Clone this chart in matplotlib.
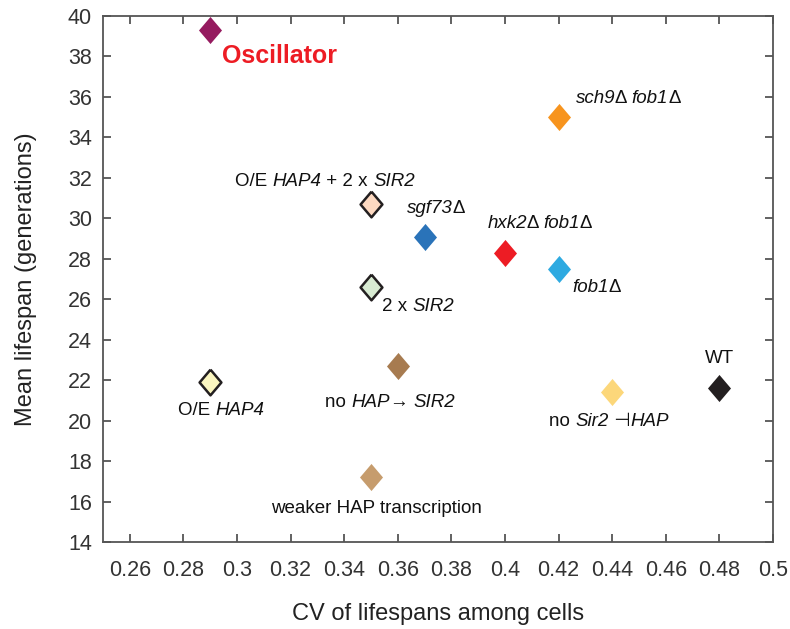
import matplotlib
matplotlib.use("Agg")
import matplotlib.pyplot as plt
from matplotlib.offsetbox import TextArea, HPacker, AnnotationBbox

plt.rcParams['font.family'] = ['Liberation Sans', 'DejaVu Sans']

# strains: CV of lifespan vs mean lifespan
cv = [0.29, 0.42, 0.37, 0.40, 0.42, 0.35, 0.35, 0.29, 0.36, 0.35, 0.44, 0.48]
lifespan = [39.3, 35.0, 29.1, 28.3, 27.5, 30.7, 26.6, 21.9, 22.7, 17.2, 21.4, 21.6]
colors = ['#951b5f', '#f7941e', '#2a73b9', '#ed1c24', '#2eaae1',
          '#fdd9c1', '#d8ebd2', '#fbf6c0', '#a77b50', '#c69c6d', '#fcd77a', '#231f20']
outlined = [False, False, False, False, False, True, True, True, False, False, False, False]

# labels as (text, italic) pieces
labels = [
    [('sch9', True), ('\u0394 ', False), ('fob1', True), ('\u0394', False)],
    [('sgf73', True), ('\u0394', False)],
    [('hxk2', True), ('\u0394 ', False), ('fob1', True), ('\u0394', False)],
    [('fob1', True), ('\u0394', False)],
    [('O/E ', False), ('HAP4', True), (' + 2 x ', False), ('SIR2', True)],
    [('2 x ', False), ('SIR2', True)],
    [('O/E ', False), ('HAP4', True)],
    [('no ', False), ('HAP', True), ('\u2192 ', False), ('SIR2', True)],
    [('weaker HAP transcription', False)],
    [('no ', False), ('Sir2', True), (' \u22a3', False), ('HAP', True)],
    [('WT', False)],
]
label_x = [0.4459, 0.3743, 0.413, 0.4343, 0.3328, 0.3675, 0.294, 0.3571, 0.352, 0.4388, 0.4802]
label_y = [35.92, 30.46, 29.72, 26.6, 31.84, 25.66, 20.52, 20.92, 15.68, 19.98, 23.05]

diamond = [(0, 1), (0.85, 0), (0, -1), (-0.85, 0), (0, 1)]

fig = plt.figure(figsize=(7.9, 6.29), dpi=100)
ax = fig.add_axes([0.1304, 0.1383, 0.8481, 0.8363])

for i in range(len(cv)):
    if outlined[i]:
        ax.plot(cv[i], lifespan[i], marker=diamond, ms=18.5, color=colors[i],
                markeredgecolor='#231f20', markeredgewidth=1.8, linestyle='none')
    else:
        ax.plot(cv[i], lifespan[i], marker=diamond, ms=19.5, color=colors[i],
                markeredgewidth=0, linestyle='none')

ax.text(0.2944, 38.02, 'Oscillator', ha='left', va='center',
        fontsize=18, fontweight='bold', color='#ed1c24')

for pieces, x, y in zip(labels, label_x, label_y):
    parts = [TextArea(t, textprops=dict(fontsize=13.5, color='#111111',
                                        fontstyle='italic' if it else 'normal'))
             for t, it in pieces]
    box = HPacker(children=parts, align='baseline', pad=0, sep=0)
    ab = AnnotationBbox(box, (x, y), xycoords='data', frameon=False,
                        box_alignment=(0.5, 0.5), pad=0)
    ax.add_artist(ab)

ax.set_xlim(0.25, 0.5)
ax.set_ylim(14, 40)
ax.set_xticks([0.26, 0.28, 0.30, 0.32, 0.34, 0.36, 0.38, 0.40, 0.42, 0.44, 0.46, 0.48, 0.50])
ax.set_xticklabels(['0.26', '0.28', '0.3', '0.32', '0.34', '0.36', '0.38', '0.4',
                    '0.42', '0.44', '0.46', '0.48', '0.5'])
ax.set_yticks(range(14, 41, 2))

for s in ax.spines.values():
    s.set_color('#555555')
    s.set_linewidth(1.3)
ax.tick_params(direction='in', length=6, width=1.3, color='#555555',
               labelsize=15.5, labelcolor='#333333', top=True, right=True)
ax.tick_params(axis='x', pad=13)
ax.tick_params(axis='y', pad=8)

ax.set_xlabel('CV of lifespans among cells', fontsize=17, color='#222222', labelpad=16)
ax.set_ylabel('Mean lifespan (generations)', fontsize=17, color='#222222', labelpad=22)

fig.savefig('out.png', dpi=100)
